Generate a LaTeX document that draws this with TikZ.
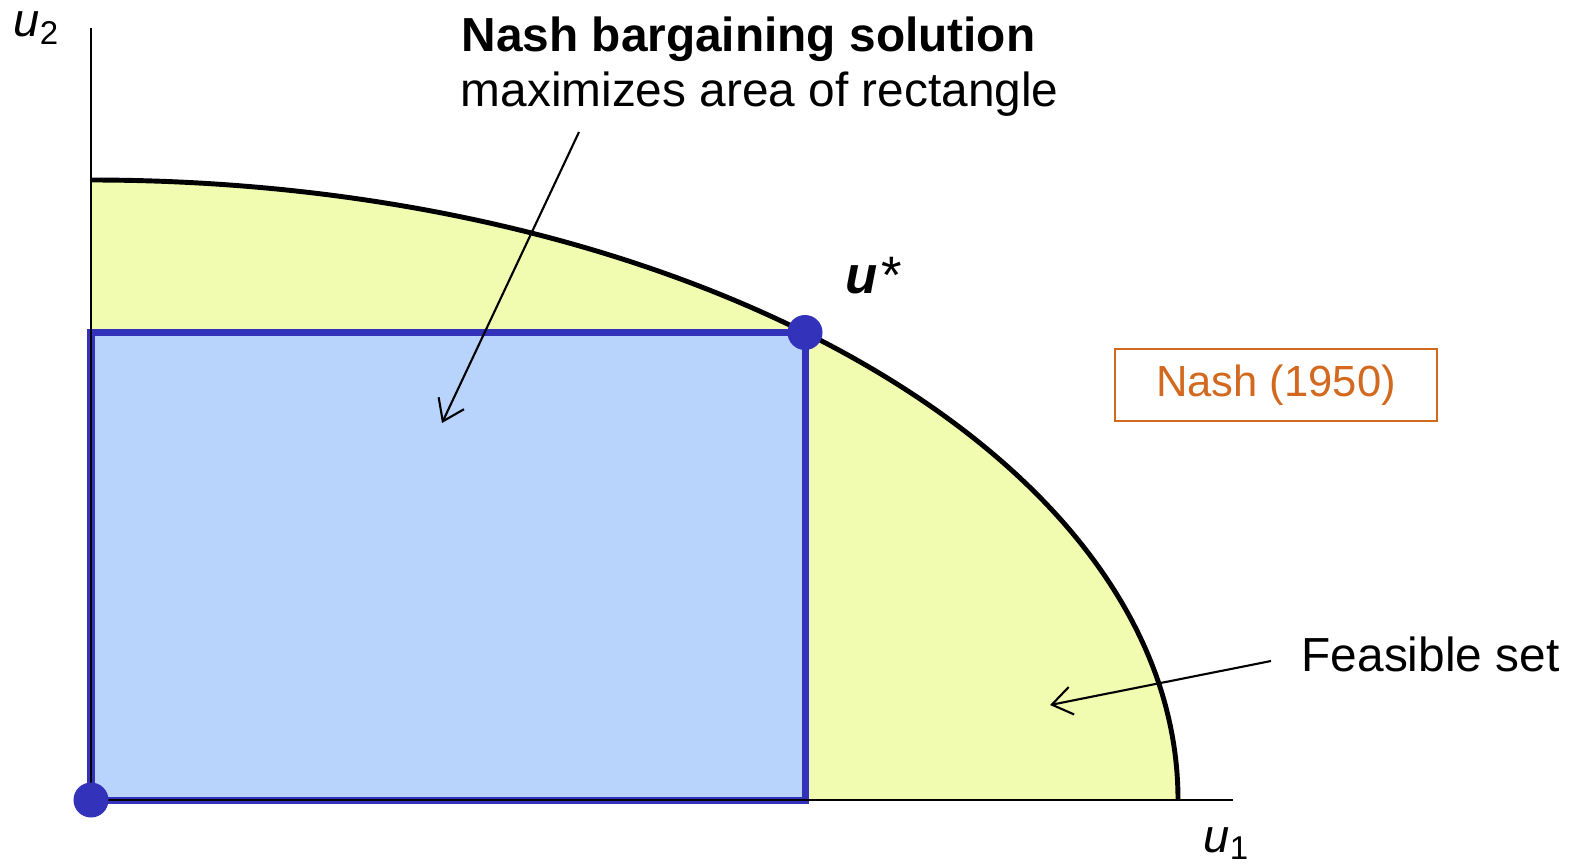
\documentclass[tikz,border=0pt]{standalone}
\usepackage{fontspec}
\setmainfont{Liberation Sans}
\usepackage{tikz}
\usetikzlibrary{arrows.meta,positioning,calc}
\usepackage{xcolor}
\definecolor{feasyellow}{HTML}{F1FCB0}
\definecolor{rectblue}{HTML}{B8D4FC}
\definecolor{edgeblue}{HTML}{3232BA}
\definecolor{nashorange}{HTML}{D2691E}

\begin{document}
\begin{tikzpicture}[
    lbl/.style={inner sep=0pt, anchor=base west, font=\fontsize{13.6}{16}\selectfont},
    axlbl/.style={inner sep=0pt, anchor=base west, font=\fontsize{13.4}{16}\selectfont},
    pointer/.style={-{Straight Barb[length=2mm, width=2.8mm]}, line width=0.6pt},
    nashdot/.style={circle, fill=edgeblue, inner sep=0pt, minimum size=3.5mm},
    citebox/.style={rectangle, draw=nashorange, line width=0.5pt, text=nashorange, minimum width=3.22cm, minimum height=0.72cm, inner sep=0pt, font=\fontsize{12.4}{15}\selectfont}
]
\useasboundingbox (0,0) rectangle (15.77,8.65);

\coordinate (O) at (0.91,0.65);
\coordinate (ytop) at (0.91,8.37);
\coordinate (xend) at (12.33,0.65);
\coordinate (ctop) at (0.91,6.85);
\coordinate (upt) at ($(O)+(7.14,4.675)$);

% feasible set and rectangle
\fill[feasyellow] (O) -- (ctop) arc[start angle=90, end angle=0, x radius=10.87, y radius=6.2] -- cycle;
\draw[edgeblue, line width=2pt, fill=rectblue] (O) rectangle (upt);
\draw[line width=0.6pt] (ytop) -- (O) -- (xend);
\draw[line width=1.4pt] (ctop) arc[start angle=90, end angle=0, x radius=10.87, y radius=6.2];

\node[nashdot] (origin) at (O) {};
\node[nashdot] (ustar) at (upt) {};

% labels
\node[axlbl] (u2) at (0.13,8.28) {\textit{u}\textsubscript{2}};
\node[axlbl] (u1) at (12.03,0.13) {\textit{u}\textsubscript{1}};
\node[lbl, font=\fontsize{15}{17}\selectfont] (ulbl) at (8.45,5.72) {\textbf{\textit{u}}\kern0.06em*};
\node[lbl] (nbstitle) at (4.61,8.13) {\textbf{Nash bargaining solution}};
\node[lbl] (nbssub) at (4.60,7.59) {maximizes area of rectangle};
\node[lbl] (feas) at (13.01,1.94) {Feasible set};
\node[citebox] (cite) at (12.76,4.80) {Nash (1950)};

\coordinate (nbstail) at (5.79,7.33);
\coordinate (nbshead) at (4.42,4.42);
\coordinate (feastail) at (12.71,2.04);
\coordinate (feashead) at (10.50,1.60);

\draw[pointer] (nbstail) -- (nbshead);
\draw[pointer] (feastail) -- (feashead);
\end{tikzpicture}
\end{document}
